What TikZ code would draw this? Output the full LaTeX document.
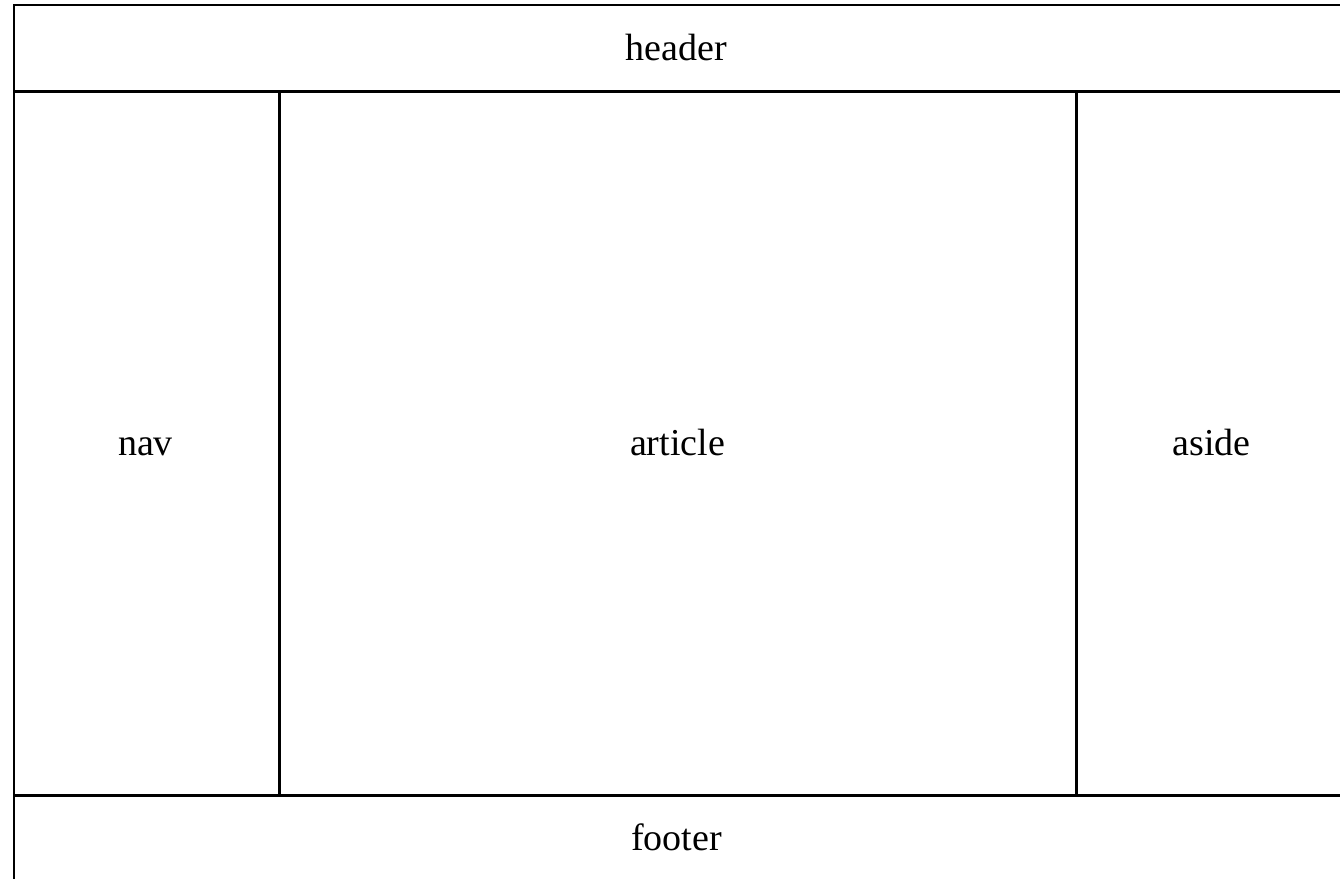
\documentclass[tikz,border=0pt]{standalone}
\usepackage{fontspec}
\setmainfont{Liberation Serif}
\begin{document}
\begin{tikzpicture}[x=1pt,y=-1pt,
  outer/.style={line width=2pt,black},
  inner/.style={line width=3pt,black},
  lbl/.style={anchor=base,inner sep=0pt,font=\fontsize{38}{40}\selectfont}]
\useasboundingbox (0,0) rectangle (1340,879);
\fill[white] (0,0) rectangle (1340,879);
% outer edges
\coordinate (tl) at (13.5,4.5);
\coordinate (tr) at (1340,4.5);
\coordinate (bl) at (13.5,879);
\draw[outer] (tr) -- (tl) -- (bl);
% header / footer separators
\coordinate (hl) at (13,91);
\coordinate (hr) at (1340,91);
\coordinate (fl) at (13,795);
\coordinate (fr) at (1340,795);
\draw[inner] (hl) -- (hr);
\draw[inner] (fl) -- (fr);
% column separators
\coordinate (c1t) at (279,91);
\coordinate (c1b) at (279,795);
\coordinate (c2t) at (1076,91);
\coordinate (c2b) at (1076,795);
\draw[inner] (c1t) -- (c1b);
\draw[inner] (c2t) -- (c2b);
% labels
\node[lbl] (header) at (676.5,60) {header};
\node[lbl] (nav) at (145.5,455) {nav};
\node[lbl] (article) at (677.5,455) {article};
\node[lbl] (aside) at (1211.5,455) {aside};
\node[lbl] (footer) at (676.5,850) {footer};
\end{tikzpicture}
\end{document}
